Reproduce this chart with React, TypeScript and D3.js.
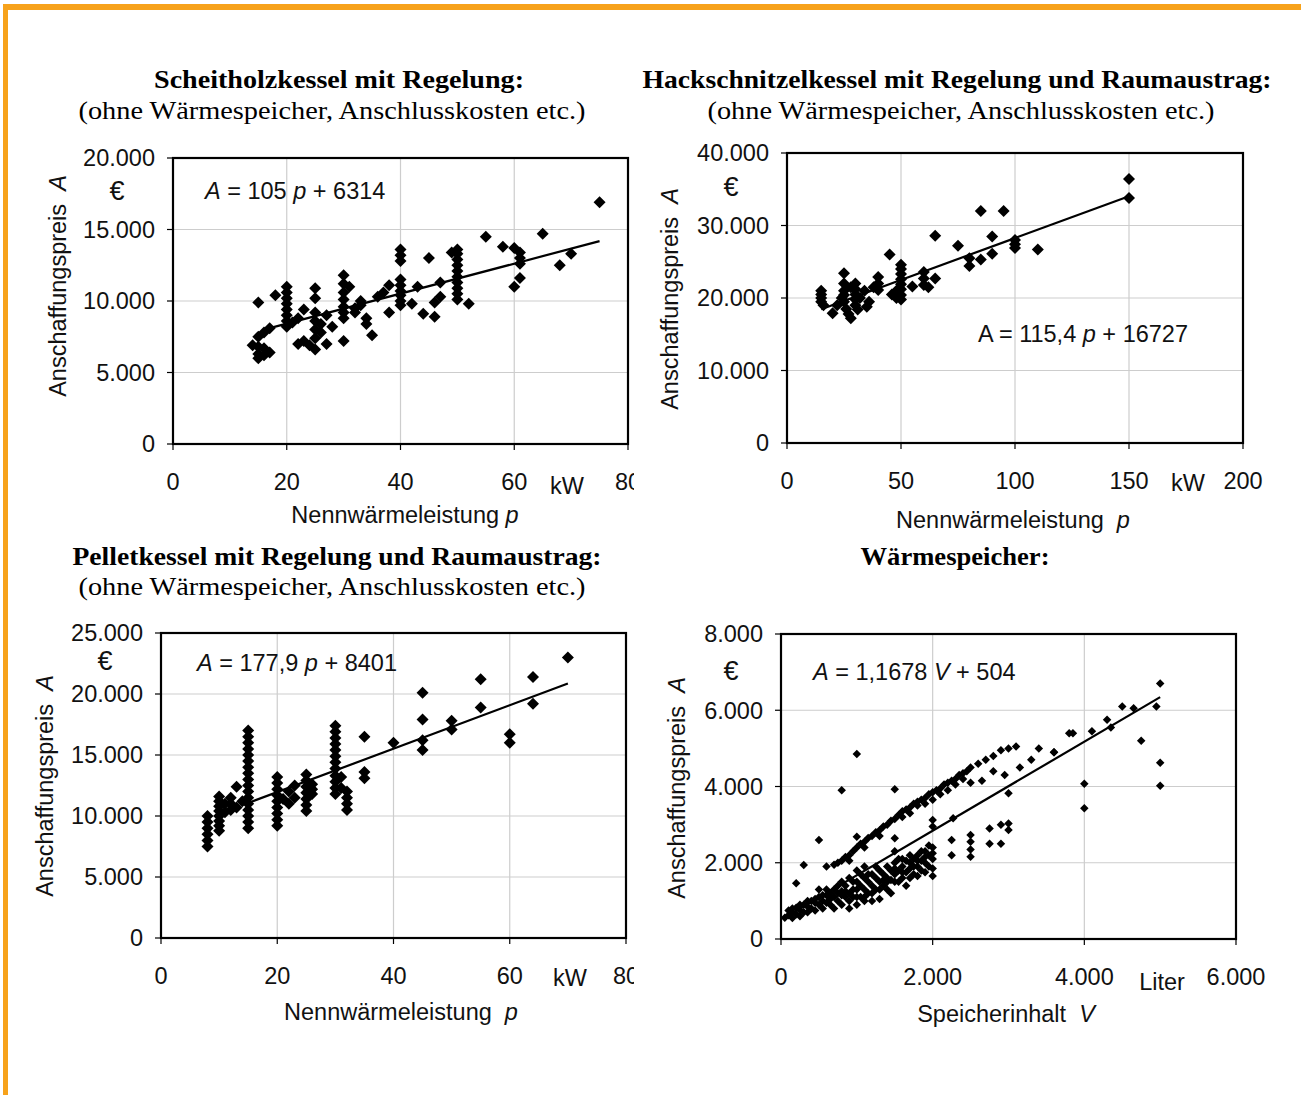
import React from 'react';
import * as d3 from 'd3';

const WIDTH = 1301;
const HEIGHT = 1095;
const ORANGE = '#F7A21B';
const SANS = '"Liberation Sans", Arial, Helvetica, sans-serif';
const SERIF = '"Liberation Serif", "Times New Roman", serif';

// Scheitholzkessel: [Nennwärmeleistung kW, Anschaffungspreis €]
const scheitholz = [
  [14, 6900], [15, 6800], [16, 6700], [15, 6300], [16, 6200], [15, 6000], [17, 6400], [15, 9900],
  [16, 7800], [15, 7500], [17, 8100], [18, 10400],
  [20, 11000], [20, 10600], [20, 10200], [20, 9800], [20, 9400], [20, 9000], [20, 8600], [20, 8200],
  [21, 8500], [22, 7000], [23, 7200], [24, 6900], [23, 9400], [22, 8800],
  [25, 10900], [25, 10200], [25, 9200], [25, 8600], [25, 8000], [25, 7400], [25, 6600], [26, 8400],
  [27, 9000], [27, 7000], [28, 8200], [26, 7800],
  [30, 11800], [30, 11200], [30, 10600], [30, 10100], [30, 9600], [30, 9200], [30, 8800], [30, 7200],
  [31, 11000], [32, 9500], [32, 9200], [33, 10000], [34, 8800], [34, 8400], [35, 7600], [33, 9700],
  [36, 10300], [37, 10600], [38, 11100], [38, 9200], [40, 13600], [40, 13200], [40, 12800], [40, 11500],
  [40, 11100], [40, 10700], [40, 10400], [40, 10000], [40, 9700], [42, 9800], [43, 11000], [44, 9100], [45, 13000],
  [46, 8900], [46, 9900], [47, 10300], [47, 11300], [50, 13600], [50, 13300], [50, 12900], [50, 12500],
  [50, 12100], [50, 11700], [50, 11300], [50, 10900], [50, 10500], [50, 10100], [52, 9800], [49, 13400],
  [55, 14500], [58, 13800], [60, 13700], [61, 13400], [61, 13000], [61, 12600], [61, 11600], [60, 11000],
  [65, 14700], [68, 12500], [70, 13300], [75, 16900],
];

// Hackschnitzelkessel
const hackschnitzel = [
  [15, 21000], [15, 20500], [15, 20000], [15, 19500], [16, 19000], [20, 17900], [22, 19000], [24, 20000],
  [25, 23400], [25, 22000], [25, 21000], [25, 20400], [25, 19500], [26, 18500], [27, 17800], [28, 17200],
  [28, 21500], [30, 22000], [30, 21200], [30, 20500], [30, 19800], [30, 19000], [31, 18400], [32, 20000],
  [34, 21000], [35, 18800], [36, 19500], [38, 21500], [40, 22900], [40, 22000], [40, 21100], [45, 26000],
  [46, 20500], [48, 20000], [48, 21000], [50, 24600], [50, 24000], [50, 23300], [50, 22600], [50, 21900],
  [50, 21200], [50, 20400], [50, 19800], [55, 21600], [60, 23600], [60, 22700], [60, 21800], [62, 21500],
  [65, 22700], [65, 28600], [75, 27200], [80, 25500], [80, 24400], [85, 32000], [85, 25300], [90, 28500],
  [90, 26100], [95, 32000], [100, 28000], [100, 27400], [100, 26900], [110, 26700], [150, 36400], [150, 33800],
];

// Pelletkessel
const pellet = [
  [8, 10000], [8, 9500], [8, 9000], [8, 8500], [8, 8000], [8, 7500],
  [10, 11600], [10, 11200], [10, 10800], [10, 10400], [10, 10000], [10, 9600], [10, 9200], [10, 8800],
  [11, 11000], [11, 10300], [12, 11500], [12, 11000], [12, 10500], [13, 12400], [13, 10700], [14, 11200],
  [15, 17000], [15, 16500], [15, 16000], [15, 15500], [15, 15000], [15, 14500], [15, 14000], [15, 13500],
  [15, 13000], [15, 12500], [15, 12000], [15, 11500], [15, 11000], [15, 10500], [15, 10000], [15, 9500], [15, 9000],
  [20, 13200], [20, 12700], [20, 12200], [20, 11700], [20, 11200], [20, 10700], [20, 10200], [20, 9700],
  [20, 9200], [21, 11400], [22, 12000], [22, 11000], [23, 12500], [23, 11500],
  [25, 13400], [25, 12900], [25, 12400], [25, 11900], [25, 11400], [25, 10900], [25, 10400], [26, 12600],
  [26, 11800], [26, 12200],
  [30, 17400], [30, 16900], [30, 16400], [30, 15900], [30, 15400], [30, 14900], [30, 14400], [30, 13900],
  [30, 13300], [30, 12800], [30, 12300], [30, 11800], [31, 13200], [31, 12300], [32, 12000], [32, 11500],
  [32, 11000], [32, 10500],
  [35, 16500], [35, 13600], [35, 13100], [40, 16000], [45, 20100], [45, 17900], [45, 16200], [45, 15400],
  [50, 17800], [50, 17100], [55, 21200], [55, 18900], [60, 16700], [60, 16000], [64, 21400], [64, 19200], [70, 23000],
];

// Wärmespeicher: [Speicherinhalt Liter, Preis €]
const speicher = [
  // untere Gruppe
  [50, 560], [100, 620], [150, 700], [200, 650], [200, 820], [250, 760], [300, 900], [300, 700],
  [350, 850], [400, 1000], [400, 800], [450, 950], [500, 1100], [500, 900], [500, 1300], [550, 1000],
  [600, 1150], [600, 950], [650, 1200], [700, 1100], [700, 1300], [750, 1000], [800, 1250], [800, 1500],
  [800, 900], [850, 1400], [900, 1200], [900, 1600], [950, 1300], [1000, 1500], [1000, 1100], [1000, 1800],
  [1000, 900], [1050, 1400], [1100, 1600], [1100, 1300], [1100, 1900], [1150, 1500], [1200, 1700], [1200, 1400],
  [1250, 1600], [1300, 1800], [1300, 1500], [1300, 1050], [1350, 1700], [1400, 1900], [1400, 1600], [1450, 1800],
  [1500, 2000], [1500, 1700], [1500, 1500], [1500, 2300], [1550, 1800], [1600, 1900], [1600, 2100], [1650, 1750],
  [1700, 2000], [1700, 1850], [1750, 2100], [1800, 2200], [1800, 1900], [1850, 2050], [1900, 2300], [1900, 2000],
  [1950, 2200], [2000, 2400], [2000, 2100], [2000, 1850], [2000, 2250], [1200, 1200], [900, 1000], [1450, 1550],
  [600, 1300], [1100, 1100], [1700, 2200], [1250, 1900],
  [150, 550], [250, 600], [350, 700], [450, 750], [550, 800], [650, 900], [700, 800], [750, 1200],
  [850, 1100], [900, 800], [950, 1500], [1050, 1100], [1150, 1200], [1200, 1000], [1250, 1300], [1350, 1400],
  [1400, 1300], [1450, 1200], [1550, 1500], [1600, 1600], [1650, 1400], [1700, 1600], [1750, 1700], [1800, 1650],
  [1850, 1800], [1900, 1750], [1950, 1900], [2000, 1650], [1550, 2100], [1650, 2050], [1750, 1900], [1850, 2300],
  [1950, 2450], [800, 1150], [950, 1100], [1000, 1300], [1050, 1700], [1100, 1000], [650, 1050], [550, 1150],
  [450, 1050], [350, 1000], [250, 900], [150, 800], [100, 750], [1300, 1300], [1400, 1500], [1500, 1850],
  [1600, 1750], [1350, 1550], [1150, 1700], [850, 1250], [750, 1400], [1800, 2050], [1900, 2150],
  // obere Gruppe
  [600, 1900], [700, 1950], [750, 2000], [800, 2050], [850, 2150], [900, 2200], [950, 2300], [1000, 2400],
  [1050, 2500], [1100, 2550], [1150, 2650], [1200, 2700], [1250, 2800], [1300, 2850], [1350, 2950], [1400, 3000],
  [1450, 3100], [1500, 3150], [1550, 3250], [1600, 3350], [1650, 3400], [1700, 3450], [1750, 3550], [1800, 3600],
  [1850, 3650], [1900, 3700], [1950, 3800], [2000, 3850], [2050, 3900], [2100, 3950], [2150, 4050], [2200, 4100],
  [2250, 4150], [2300, 4200], [2350, 4300], [2400, 4350], [2450, 4400], [2500, 4500], [2600, 4600], [2700, 4700],
  [2800, 4800], [2900, 4950], [3000, 5000], [3100, 5050], [1600, 3200], [1800, 3500], [2000, 3650], [2200, 3900],
  [2400, 4200], [2500, 4100], [2650, 4150], [2800, 4400], [2950, 4300], [3150, 4500], [3300, 4700], [3400, 5000],
  [3600, 4900], [900, 2050], [1100, 2400], [1300, 2700], [1700, 3300], [1900, 3550], [2100, 3800], [2300, 4050],
  // Streuung
  [2250, 2600], [2250, 2200], [2500, 2730], [2500, 2550], [2500, 2350], [2500, 2160], [2750, 2900], [2750, 2500],
  [2900, 3000], [2900, 2500], [3000, 3030], [3000, 2860], [3000, 3820], [2270, 3170], [2000, 3120], [2000, 2950],
  [1000, 4850], [800, 3900], [1500, 3930], [500, 2600], [1000, 2680], [1500, 2640], [300, 1940], [200, 1460],
  [4000, 4070], [4000, 3430], [4750, 5200], [5000, 4620], [5000, 4020], [5000, 6700], [4950, 6100], [4500, 6100],
  [4650, 6050], [4300, 5750], [4350, 5550], [4100, 5450], [3800, 5400], [3850, 5400], [3600, 4900],
];

const eur = d3.formatLocale({ decimal: ',', thousands: '.', grouping: [3], currency: ['', '€'] }).format(',');

const panels = [
  {
    key: 'scheit', data: scheitholz, box: { x0: 173, y0: 158, x1: 628, y1: 444 },
    xDomain: [0, 80], yDomain: [0, 20000], xTicks: [0, 20, 40, 60, 80], yTicks: [0, 5000, 10000, 15000, 20000],
    fit: { a: 105, b: 6314, from: 17.5, to: 75 }, marker: 12, clipRight: 634,
    title: { text: 'Scheitholzkessel mit Regelung:', x: 339, y: 88, w: 370 },
    sub: { x: 332, y: 119, w: 507 },
    eq: { x: 205, y: 199, parts: [['A', true], [' = 105 ', false], ['p', true], [' + 6314', false]] },
    euro: { x: 117, y: 200 }, yLabel: { x: 66, y: 286 },
    xLabel: { x: 405, y: 523, text: 'Nennwärmeleistung ', v: 'p' }, unit: { text: 'kW', x: 567, y: 494 },
  },
  {
    key: 'hack', data: hackschnitzel, box: { x0: 787, y0: 153, x1: 1243, y1: 443 },
    xDomain: [0, 200], yDomain: [0, 40000], xTicks: [0, 50, 100, 150, 200], yTicks: [0, 10000, 20000, 30000, 40000],
    fit: { a: 115.4, b: 16727, from: 15, to: 150 }, marker: 12, clipRight: 1301,
    title: { text: 'Hackschnitzelkessel mit Regelung und Raumaustrag:', x: 957, y: 88, w: 629 },
    sub: { x: 961, y: 119, w: 507 },
    eq: { x: 978, y: 342, parts: [['A = 115,4 ', false], ['p', true], [' + 16727', false]] },
    euro: { x: 731, y: 196 }, yLabel: { x: 678, y: 299 },
    xLabel: { x: 1013, y: 528, text: 'Nennwärmeleistung  ', v: 'p' }, unit: { text: 'kW', x: 1188, y: 491 },
  },
  {
    key: 'pellet', data: pellet, box: { x0: 161, y0: 633, x1: 626, y1: 938 },
    xDomain: [0, 80], yDomain: [0, 25000], xTicks: [0, 20, 40, 60, 80], yTicks: [0, 5000, 10000, 15000, 20000, 25000],
    fit: { a: 177.9, b: 8401, from: 15, to: 70 }, marker: 12, clipRight: 634,
    title: { text: 'Pelletkessel mit Regelung und Raumaustrag:', x: 337, y: 565, w: 529 },
    sub: { x: 332, y: 595, w: 507 },
    eq: { x: 197, y: 671, parts: [['A', true], [' = 177,9 ', false], ['p', true], [' + 8401', false]] },
    euro: { x: 105, y: 670 }, yLabel: { x: 53, y: 786 },
    xLabel: { x: 401, y: 1020, text: 'Nennwärmeleistung  ', v: 'p' }, unit: { text: 'kW', x: 570, y: 986 },
  },
  {
    key: 'speicher', data: speicher, box: { x0: 781, y0: 634, x1: 1236, y1: 939 },
    xDomain: [0, 6000], yDomain: [0, 8000], xTicks: [0, 2000, 4000, 6000], yTicks: [0, 2000, 4000, 6000, 8000],
    fit: { a: 1.1678, b: 504, from: 60, to: 5000 }, marker: 8.5, clipRight: 1301,
    title: { text: 'Wärmespeicher:', x: 955, y: 565, w: 189 },
    sub: null,
    eq: { x: 813, y: 680, parts: [['A', true], [' = 1,1678 ', false], ['V', true], [' + 504', false]] },
    euro: { x: 731, y: 680 }, yLabel: { x: 685, y: 788 },
    xLabel: { x: 1006, y: 1022, text: 'Speicherinhalt  ', v: 'V' }, unit: { text: 'Liter', x: 1162, y: 990 },
  },
];

const Panel = ({ cfg }: { cfg: any }) => {
  const { box } = cfg;
  const x = d3.scaleLinear().domain(cfg.xDomain).range([box.x0, box.x1]);
  const y = d3.scaleLinear().domain(cfg.yDomain).range([box.y1, box.y0]);
  const r = cfg.marker / 2;
  const diamond = `M0,${-r}L${r},0L0,${r}L${-r},0Z`;
  const fitLine = d3.line<number>()
    .x(v => x(v))
    .y(v => y(cfg.fit.a * v + cfg.fit.b))([cfg.fit.from, cfg.fit.to]);

  return (
    <g>
      <text x={cfg.title.x} y={cfg.title.y} textAnchor="middle" fontFamily={SERIF} fontWeight="bold"
        fontSize={25} textLength={cfg.title.w} lengthAdjust="spacingAndGlyphs">{cfg.title.text}</text>
      {cfg.sub && (
        <text x={cfg.sub.x} y={cfg.sub.y} textAnchor="middle" fontFamily={SERIF} fontSize={25}
          textLength={cfg.sub.w} lengthAdjust="spacingAndGlyphs">(ohne Wärmespeicher, Anschlusskosten etc.)</text>
      )}

      {/* grid */}
      {cfg.xTicks.slice(1, -1).map((t: number) => (
        <line key={'gx' + t} x1={x(t)} x2={x(t)} y1={box.y0} y2={box.y1} stroke="#cdcdcd" strokeWidth={1.2} />
      ))}
      {cfg.yTicks.slice(1, -1).map((t: number) => (
        <line key={'gy' + t} x1={box.x0} x2={box.x1} y1={y(t)} y2={y(t)} stroke="#cdcdcd" strokeWidth={1.2} />
      ))}

      {/* points */}
      <g fill="#000">
        {cfg.data.map((d: number[], i: number) => (
          <path key={i} d={diamond} transform={`translate(${x(d[0])},${y(d[1])})`} />
        ))}
      </g>
      <path d={fitLine || ''} stroke="#000" strokeWidth={2.2} fill="none" />

      <rect x={box.x0} y={box.y0} width={box.x1 - box.x0} height={box.y1 - box.y0}
        fill="none" stroke="#000" strokeWidth={2.2} />

      {/* axes */}
      <g fontFamily={SANS} fontSize={23.5} fill="#111">
        {cfg.yTicks.map((t: number) => (
          <g key={'yt' + t}>
            <line x1={box.x0 - 6} x2={box.x0} y1={y(t)} y2={y(t)} stroke="#000" strokeWidth={1.2} />
            <text x={box.x0 - 18} y={y(t)} dy="0.36em" textAnchor="end">{eur(t)}</text>
          </g>
        ))}
        <clipPath id={'clip-' + cfg.key}>
          <rect x={0} y={box.y1} width={cfg.clipRight} height={80} />
        </clipPath>
        <g clipPath={`url(#clip-${cfg.key})`}>
          {cfg.xTicks.map((t: number) => (
            <g key={'xt' + t}>
              <line x1={x(t)} x2={x(t)} y1={box.y1} y2={box.y1 + 6} stroke="#000" strokeWidth={1.2} />
              <text x={x(t)} y={box.y1 + 46} textAnchor="middle">{eur(t)}</text>
            </g>
          ))}
        </g>
        <text x={cfg.unit.x} y={cfg.unit.y} textAnchor="middle">{cfg.unit.text}</text>
        <text x={cfg.xLabel.x} y={cfg.xLabel.y} textAnchor="middle" style={{ whiteSpace: 'pre' }}>
          {cfg.xLabel.text}<tspan fontStyle="italic">{cfg.xLabel.v}</tspan>
        </text>
        <text transform={`translate(${cfg.yLabel.x},${cfg.yLabel.y}) rotate(-90)`} textAnchor="middle"
          style={{ whiteSpace: 'pre' }}>
          {'Anschaffungspreis  '}<tspan fontStyle="italic">A</tspan>
        </text>
        <text x={cfg.euro.x} y={cfg.euro.y} textAnchor="middle" fontSize={27}>€</text>
        <text x={cfg.eq.x} y={cfg.eq.y} style={{ whiteSpace: 'pre' }}>
          {cfg.eq.parts.map((p: [string, boolean], i: number) => (
            <tspan key={i} fontStyle={p[1] ? 'italic' : 'normal'}>{p[0]}</tspan>
          ))}
        </text>
      </g>
    </g>
  );
};

export default function App() {
  return (
    <svg width={WIDTH} height={HEIGHT} style={{ position: 'absolute', left: 0, top: 0, background: '#fff' }}>
      <rect x={0} y={0} width={WIDTH} height={HEIGHT} fill="#fff" />
      <rect x={3} y={4} width={WIDTH - 3} height={6} fill={ORANGE} />
      <rect x={3} y={4} width={5} height={HEIGHT - 4} fill={ORANGE} />
      {panels.map(p => <Panel key={p.key} cfg={p} />)}
    </svg>
  );
}
